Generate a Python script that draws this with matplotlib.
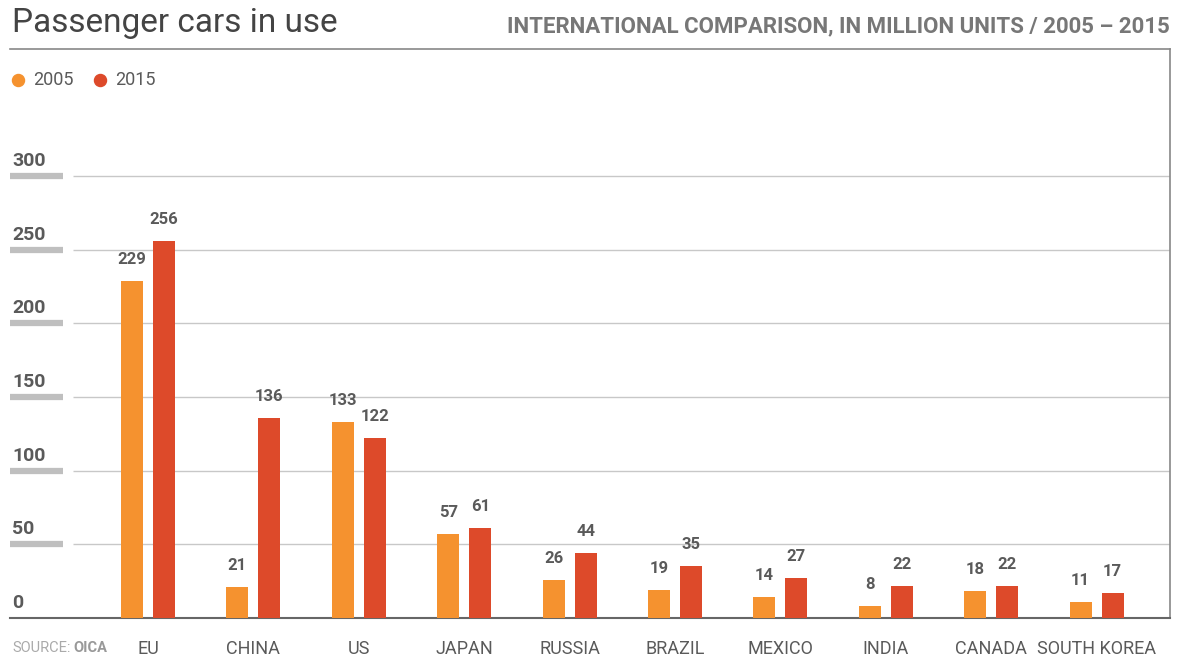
import matplotlib.pyplot as plt
import numpy as np

# data
countries = ['EU', 'CHINA', 'US', 'JAPAN', 'RUSSIA', 'BRAZIL', 'MEXICO', 'INDIA', 'CANADA', 'SOUTH KOREA']
cars_2005 = [229, 21, 133, 57, 26, 19, 14, 8, 18, 11]
cars_2015 = [256, 136, 122, 61, 44, 35, 27, 22, 22, 17]
yticks = [0, 50, 100, 150, 200, 250, 300]

c2005 = '#F5922F'
c2015 = '#DD4A2A'
txt = '#5a5a5a'
narrow = ['Liberation Sans Narrow', 'Roboto', 'DejaVu Sans']

W, H = 1177, 659
fig = plt.figure(figsize=(W / 100, H / 100), dpi=100)
ax = fig.add_axes([10 / W, (H - 618) / H, 1160 / W, (618 - 49) / H])

# pixel -> data mapping for the x axis
x0, step = 148, 105.4
def px(x):
    return (x - x0) / step

x = np.arange(len(countries))
off = 16 / step
bw = 22 / step
ax.bar(x - off, cars_2005, bw, color=c2005, zorder=3)
ax.bar(x + off, cars_2015, bw, color=c2015, zorder=3)

ymax = (618 - 49) / (442 / 300)
ax.set_xlim(px(10), px(1170))
ax.set_ylim(0, ymax)

# gridlines and tick markers
for v in yticks[1:]:
    ax.hlines(v, px(73), px(1170), color='#c8c8c8', lw=1, zorder=1)
    ax.hlines(v, px(10), px(63), color='#bfbfbf', lw=4.5, zorder=1)
for v in yticks:
    ax.text(px(12), v + 4, str(v), ha='left', va='bottom', fontsize=14,
            fontweight='bold', color=txt, family=narrow)

# value labels
for i in range(len(countries)):
    ax.text(i - off, cars_2005[i] + 9.5, str(cars_2005[i]), ha='center', va='bottom',
            fontsize=12, fontweight='bold', color=txt, family=narrow)
    ax.text(i + off, cars_2015[i] + 9.5, str(cars_2015[i]), ha='center', va='bottom',
            fontsize=12, fontweight='bold', color=txt, family=narrow)

ax.set_xticks(x)
ax.set_xticklabels(countries, fontsize=13, color=txt, family=narrow)
ax.tick_params(axis='x', length=0, pad=16)
ax.set_yticks([])

for s in ['left', 'top']:
    ax.spines[s].set_visible(False)
ax.spines['bottom'].set_color('#666666')
ax.spines['bottom'].set_linewidth(1.5)
ax.spines['right'].set_color('#888888')
ax.spines['right'].set_linewidth(1.2)

# title rule
fig.add_artist(plt.Line2D([10 / W, 1170 / W], [(H - 49) / H] * 2, color='#888888', lw=1.2))

fig.text(12 / W, (H - 23) / H, 'Passenger cars in use', ha='left', va='center',
         fontsize=24, color='#444444', family=['Roboto', 'DejaVu Sans'])
fig.text(1170 / W, (H - 26) / H, 'INTERNATIONAL COMPARISON, IN MILLION UNITS / 2005 \u2013 2015',
         ha='right', va='center', fontsize=16, fontweight='bold', color='#777777', family=narrow)

# legend
ly = (618 - 80) / (442 / 300)
ax.scatter([px(18)], [ly], s=75, color=c2005, clip_on=False)
ax.scatter([px(100)], [ly], s=75, color=c2015, clip_on=False)
fig.text(33 / W, (H - 80) / H, '2005', ha='left', va='center', fontsize=13, color=txt, family=narrow)
fig.text(115 / W, (H - 80) / H, '2015', ha='left', va='center', fontsize=13, color=txt, family=narrow)

# source
fig.text(12 / W, (H - 648) / H, 'SOURCE:', ha='left', va='center', fontsize=10.5,
         color='#aaaaaa', family=narrow)
fig.text(73 / W, (H - 648) / H, 'OICA', ha='left', va='center', fontsize=10.5,
         fontweight='bold', color='#999999', family=narrow)

fig.savefig('out.png', dpi=100)
